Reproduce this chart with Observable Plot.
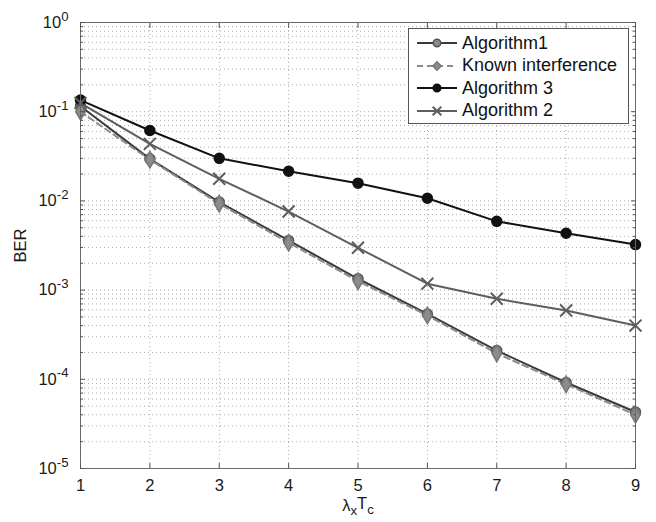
<!DOCTYPE html>
<html><head><meta charset="utf-8">
<script src="https://cdn.jsdelivr.net/npm/d3@7"></script>
<script src="https://cdn.jsdelivr.net/npm/@observablehq/plot@0.6"></script>
<style>
body{margin:0;background:#fff;font-family:"Liberation Sans",Arial,sans-serif;}
#wrap{position:relative;width:656px;height:522px;}
#legend{position:absolute;left:408px;top:28px;width:221px;height:96px;border:1px solid #555;background:#fff;box-sizing:border-box;padding-top:3px;}
.row{display:flex;align-items:center;height:22.5px;font-size:18px;color:#111;white-space:nowrap;}
.row svg{margin-left:8px;margin-right:5px;}
</style></head><body><div id="wrap"></div>
<script>
const xs = [1, 2, 3, 4, 5, 6, 7, 8, 9];
const algorithm1 = [0.115, 0.0296, 0.0097, 0.0036, 0.00134, 0.00054, 0.00021, 0.000092, 0.000043];
const knownInterference = [0.1, 0.029, 0.0093, 0.0034, 0.00126, 0.00052, 0.000195, 0.000088, 0.00004];
const algorithm3 = [0.135, 0.0615, 0.030, 0.0215, 0.0158, 0.0107, 0.0059, 0.00434, 0.00324];
const algorithm2 = [0.125, 0.0436, 0.0177, 0.0076, 0.00298, 0.00118, 0.0008, 0.00059, 0.0004];
const seriesNames = ["Algorithm1", "Known interference", "Algorithm 3", "Algorithm 2"];
const yMajorTicks = [1e-5, 1e-4, 1e-3, 1e-2, 1e-1, 1];
const xTickLabels = ["1", "2", "3", "4", "5", "6", "7", "8", "9"];
const yLabel = "BER";
const xLabel = "λxTc";

const yMinorTicks = [];
for (let k = -5; k <= -1; k++) for (let m = 2; m <= 9; m++) yMinorTicks.push(m * Math.pow(10, k));
const yAllTicks = yMajorTicks.concat(yMinorTicks);

const seriesValues = [algorithm1, knownInterference, algorithm3, algorithm2];
const styles = {
  "Algorithm1": {stroke: "#3a3a3a", dash: null, symbol: "circle", fill: "#8a8a8a", dotStroke: "#555", r: 5},
  "Known interference": {stroke: "#8c8c8c", dash: "6,4", symbol: "diamond", fill: "#8c8c8c", dotStroke: "#777", r: 5},
  "Algorithm 3": {stroke: "#111", dash: null, symbol: "circle", fill: "#111", dotStroke: "#111", r: 5},
  "Algorithm 2": {stroke: "#5e5e5e", dash: null, symbol: "times", fill: "none", dotStroke: "#5e5e5e", r: 5.5}
};
const data = [];
seriesNames.forEach((name, i) => xs.forEach((x, j) => data.push({series: name, x, y: seriesValues[i][j]})));

const gridStyle = {stroke: "#aaaaaa", strokeOpacity: 1, strokeDasharray: "1,3", strokeWidth: 1};
const marks = [
  Plot.gridY(yAllTicks, gridStyle),
  Plot.gridX(xs, gridStyle)
];
for (const name of seriesNames) {
  const s = styles[name];
  const d = data.filter(e => e.series === name);
  marks.push(Plot.line(d, {x: "x", y: "y", stroke: s.stroke, strokeWidth: 2, strokeDasharray: s.dash}));
}
for (const name of seriesNames) {
  const s = styles[name];
  const d = data.filter(e => e.series === name);
  marks.push(Plot.dot(d, {x: "x", y: "y", symbol: () => s.symbol, r: s.r, fill: s.fill, stroke: s.dotStroke, strokeWidth: s.symbol === "times" ? 2 : 1.5}));
}
const tickCol = "#555";
marks.push(
  Plot.frame({stroke: "#6a6a6a", strokeWidth: 1}),
  Plot.axisX(xs, {anchor: "bottom", tickSize: -5, tickFormat: () => "", stroke: tickCol, label: null}),
  Plot.axisX(xs, {anchor: "top", tickSize: -5, tickFormat: () => "", stroke: tickCol, label: null}),
  Plot.axisX(xs, {anchor: "bottom", tickSize: 0, tickPadding: 11, fontSize: 16.5, tickFormat: (d, i) => xTickLabels[i], fill: "#1a1a1a", label: xLabel, labelAnchor: "center", labelOffset: 42, labelArrow: "none"}),
  Plot.axisY(yMajorTicks, {anchor: "left", tickSize: -5, tickFormat: () => "", stroke: tickCol, label: null}),
  Plot.axisY(yMajorTicks, {anchor: "right", tickSize: -5, tickFormat: () => "", stroke: tickCol, label: null}),
  Plot.axisY(yMinorTicks, {anchor: "left", tickSize: -3, tickFormat: () => "", stroke: tickCol, label: null}),
  Plot.axisY(yMinorTicks, {anchor: "right", tickSize: -3, tickFormat: () => "", stroke: tickCol, label: null}),
  Plot.axisY(yMajorTicks, {anchor: "left", tickSize: 0, tickPadding: 12, fontSize: 16.5, tickFormat: d => "10^" + Math.round(Math.log10(d)), fill: "#1a1a1a", label: yLabel, labelAnchor: "center", labelOffset: 66, labelArrow: "none"})
);

const chart = Plot.plot({
  width: 656, height: 522,
  marginLeft: 80, marginRight: 21, marginTop: 22, marginBottom: 54,
  style: {fontSize: "16.5px", fontFamily: "'Liberation Sans', Arial, sans-serif", background: "#fff", color: "#1a1a1a"},
  x: {domain: [1, 9]},
  y: {type: "log", domain: [1e-5, 1]},
  marks
});

// superscripts/subscripts for labels
d3.select(chart).selectAll("text").each(function() {
  const t = this.textContent;
  if (/^10\^-?\d+$/.test(t)) {
    const exp = t.slice(3);
    const sel = d3.select(this);
    sel.text("");
    sel.append("tspan").text("10");
    sel.append("tspan").attr("dy", "-0.55em").attr("font-size", "0.8em").text(exp);
  } else if (t === xLabel) {
    const sel = d3.select(this);
    sel.text("");
    sel.append("tspan").text("λ");
    sel.append("tspan").attr("dy", "0.35em").attr("font-size", "0.8em").text("x");
    sel.append("tspan").attr("dy", "-0.35em").text("T");
    sel.append("tspan").attr("dy", "0.35em").attr("font-size", "0.8em").text("c");
  }
});

const wrap = document.getElementById("wrap");
wrap.appendChild(chart);

// legend
const legend = document.createElement("div");
legend.id = "legend";
for (const name of seriesNames) {
  const s = styles[name];
  const row = document.createElement("div");
  row.className = "row";
  const ns = "http://www.w3.org/2000/svg";
  const sv = document.createElementNS(ns, "svg");
  sv.setAttribute("width", "40"); sv.setAttribute("height", "14");
  const ln = document.createElementNS(ns, "line");
  ln.setAttribute("x1", "0"); ln.setAttribute("x2", "40"); ln.setAttribute("y1", "7"); ln.setAttribute("y2", "7");
  ln.setAttribute("stroke", s.stroke); ln.setAttribute("stroke-width", "2");
  if (s.dash) ln.setAttribute("stroke-dasharray", s.dash);
  sv.appendChild(ln);
  const sym = d3.symbol(s.symbol === "circle" ? d3.symbolCircle : s.symbol === "diamond" ? d3.symbolDiamond2 : d3.symbolTimes, s.symbol === "times" ? 50 : 45)();
  const p = document.createElementNS(ns, "path");
  p.setAttribute("d", sym); p.setAttribute("transform", "translate(20,7)");
  p.setAttribute("fill", s.fill); p.setAttribute("stroke", s.dotStroke); p.setAttribute("stroke-width", s.symbol === "times" ? "2" : "1.5");
  sv.appendChild(p);
  row.appendChild(sv);
  const span = document.createElement("span");
  span.textContent = name;
  row.appendChild(span);
  legend.appendChild(row);
}
wrap.appendChild(legend);
</script></body></html>
